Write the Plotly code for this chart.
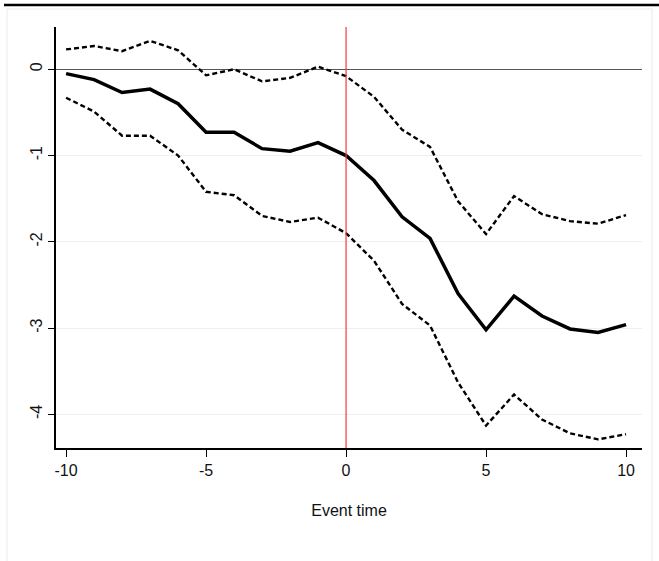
import plotly.graph_objects as go

event_time = list(range(-10, 11))
estimate = [-0.05, -0.12, -0.27, -0.23, -0.40, -0.73, -0.73, -0.92, -0.95, -0.85,
            -1.00, -1.29, -1.71, -1.96, -2.60, -3.02, -2.63, -2.86, -3.01, -3.05, -2.96]
upper_ci = [0.23, 0.27, 0.21, 0.33, 0.22, -0.07, 0.00, -0.14, -0.10, 0.03,
            -0.08, -0.32, -0.70, -0.90, -1.53, -1.91, -1.47, -1.68, -1.76, -1.79, -1.69]
lower_ci = [-0.33, -0.49, -0.77, -0.77, -1.00, -1.42, -1.46, -1.70, -1.77, -1.72,
            -1.90, -2.22, -2.72, -2.97, -3.63, -4.13, -3.77, -4.06, -4.22, -4.29, -4.23]
x_ticks = [-10, -5, 0, 5, 10]
y_ticks = [0, -1, -2, -3, -4]

fig = go.Figure()
fig.add_trace(go.Scatter(x=event_time, y=upper_ci, mode="lines",
                         line=dict(color="black", width=2.4, dash="5px,3px"), showlegend=False))
fig.add_trace(go.Scatter(x=event_time, y=lower_ci, mode="lines",
                         line=dict(color="black", width=2.4, dash="5px,3px"), showlegend=False))
fig.add_trace(go.Scatter(x=event_time, y=estimate, mode="lines",
                         line=dict(color="black", width=3.5), showlegend=False))

W, H = 659, 561
L, R, T, B = 56, 17, 27, 113
pw, ph = W - L - R, H - T - B

def px(x):
    return (x - L) / pw

def py(y):
    return (H - B - y) / ph

shapes = [
    dict(type="rect", xref="paper", yref="paper", x0=px(7), x1=px(652), y0=py(9), y1=py(600),
         line=dict(color="#e3ecee", width=1), fillcolor="rgba(0,0,0,0)", layer="below"),
    dict(type="line", xref="paper", yref="paper", x0=px(4), x1=px(659), y0=py(5), y1=py(5),
         line=dict(color="black", width=2.5)),
    dict(type="line", xref="x", yref="paper", x0=0, x1=0, y0=0, y1=1,
         line=dict(color="#f03c3c", width=1.2)),
]

fig.update_layout(
    width=W, height=H,
    margin=dict(l=L, r=R, t=T, b=B, autoexpand=False),
    paper_bgcolor="white", plot_bgcolor="white",
    font=dict(family="Liberation Sans, Arial, sans-serif", size=16, color="#111"),
    shapes=shapes,
    xaxis=dict(range=[-10.36, 10.57], tickvals=x_ticks, ticktext=[str(v) for v in x_ticks],
               showgrid=False, zeroline=False, showline=True, linecolor="black", linewidth=1.5,
               ticks="outside", ticklen=7, tickcolor="black", tickwidth=1,
               title=dict(text="Event time", standoff=27, font=dict(size=16))),
    yaxis=dict(range=[-4.39, 0.49], tickvals=y_ticks, ticktext=[str(v) for v in y_ticks],
               tickangle=-90, showgrid=True, gridcolor="#eaf1f2", gridwidth=1,
               zeroline=True, zerolinecolor="#555", zerolinewidth=1.2,
               showline=True, linecolor="black", linewidth=1.5,
               ticks="outside", ticklen=6, tickcolor="black", tickwidth=1),
)

fig.write_html("out.html", config={"displayModeBar": False},
               post_script="document.body.style.margin='0';document.body.style.padding='0';")
